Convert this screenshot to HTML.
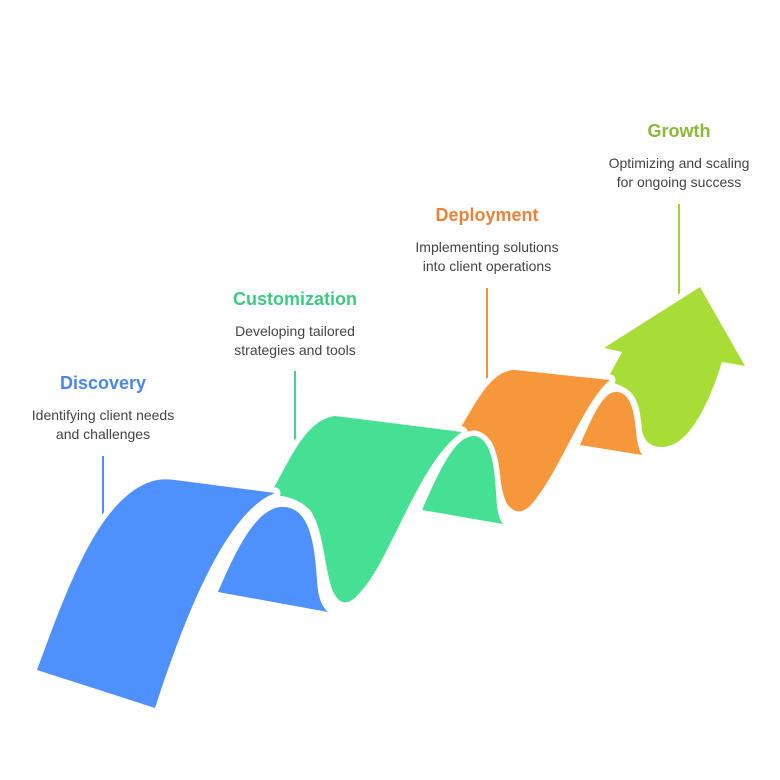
<!DOCTYPE html>
<html><head><meta charset="utf-8"><style>
body{margin:0;background:#fff;width:780px;height:780px;overflow:hidden;font-family:"Liberation Sans",sans-serif}
.t{position:absolute;width:240px;text-align:center;font-weight:bold;font-size:18px}
.d{position:absolute;width:240px;text-align:center;font-size:14px;color:#444;line-height:19px}
</style></head><body>
<svg width="780" height="780" style="position:absolute;left:0;top:0">
<g stroke-width="2">
<line x1="103" y1="456" x2="103" y2="528" stroke="#4f8ff7"/>
<line x1="295" y1="371" x2="295" y2="457" stroke="#45d48d"/>
<line x1="487" y1="288" x2="487" y2="392" stroke="#f0903a"/>
<line x1="679" y1="204" x2="679" y2="300" stroke="#a0d436"/>
</g>
<g stroke="#fff" stroke-width="11" stroke-linejoin="round" paint-order="stroke">
<path fill="#a8dd37" d="M606,382 C612,370 618,360 622,352 L604,348 L700,287 L745,366 L722,362 C710,400 690,447 662,447 Q645,447 642,430 C640,410 638,395 625,388 Q615,382 606,382 Z"/>
<path fill="#f7973b" d="M580,445 C595,410 605,390 618,392 C635,395 635,425 637,440 Q639,450 642,455 Z"/>
<path fill="#f7973b" d="M458,432 C475,405 490,370 515,370 L610,380 C585,400 560,470 535,500 Q520,520 508,505 C498,490 500,450 490,440 Q475,430 458,432 Z"/>
<path fill="#45e093" d="M422,510 C440,470 455,435 475,436 C495,440 495,480 497,505 Q498,518 503,524 Z"/>
<path fill="#45e093" d="M270,495 C290,460 305,420 335,416 L462,432 C420,460 390,560 362,590 Q345,612 335,595 C325,580 325,530 310,510 Q295,495 270,495 Z"/>
<path fill="#4f91fc" d="M218,592 C240,540 260,505 285,507 C315,510 315,560 318,590 Q320,605 328,612 Z"/>
<path fill="#4f91fc" d="M37,670 C70,580 100,500 150,482 Q160,478 175,480 L275,493 C230,510 190,600 155,708 Z"/>
</g>
</svg>
<div class="t" style="left:-17px;top:373px;color:#4a86ec">Discovery</div>
<div class="d" style="left:-17px;top:406px">Identifying client needs<br>and challenges</div>
<div class="t" style="left:175px;top:289px;color:#3ec882">Customization</div>
<div class="d" style="left:175px;top:322px">Developing tailored<br>strategies and tools</div>
<div class="t" style="left:367px;top:205px;color:#e8833a">Deployment</div>
<div class="d" style="left:367px;top:238px">Implementing solutions<br>into client operations</div>
<div class="t" style="left:559px;top:121px;color:#8db83a">Growth</div>
<div class="d" style="left:559px;top:154px">Optimizing and scaling<br>for ongoing success</div>
</body></html>
